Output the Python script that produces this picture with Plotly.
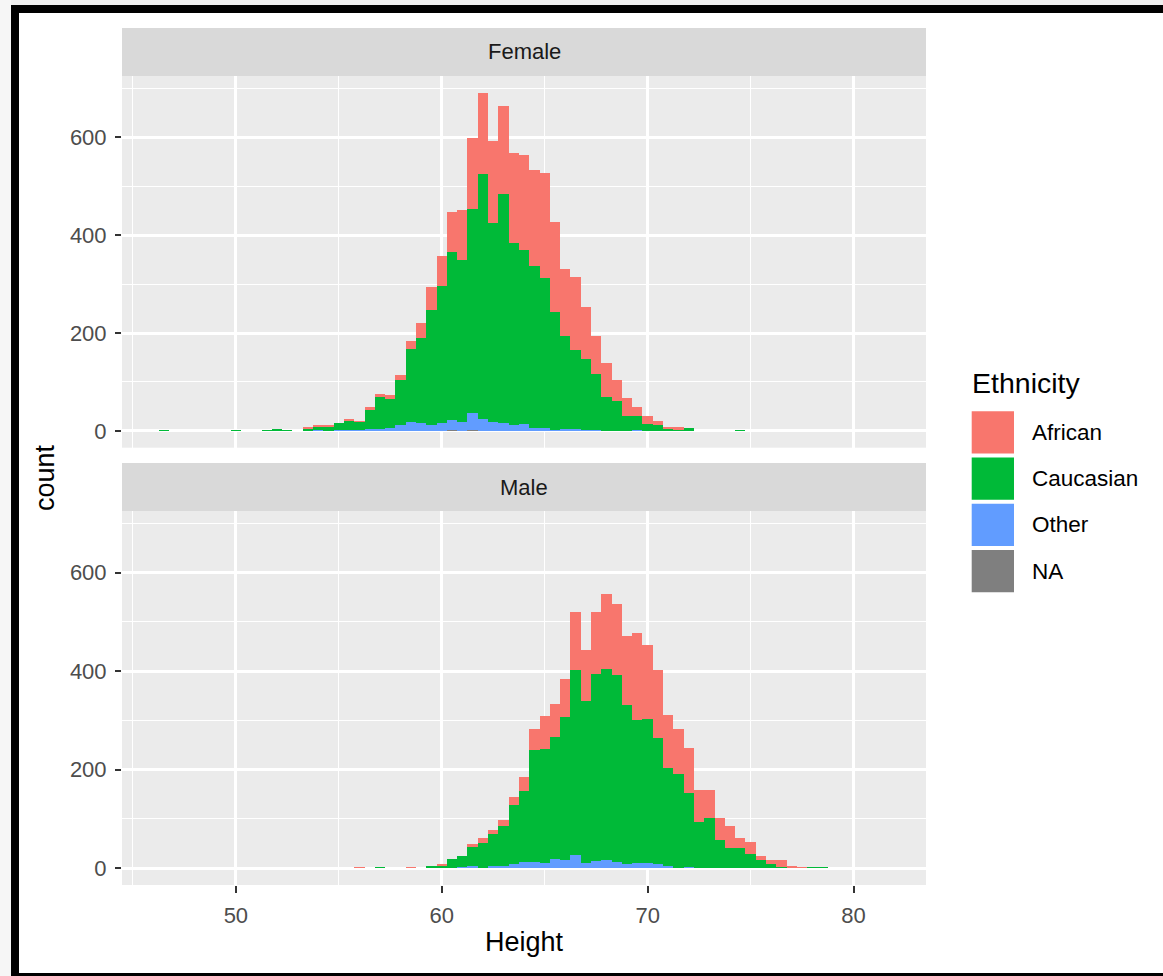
import plotly.graph_objects as go

# ---------------- data ----------------
height_bins = [46.5, 47.0, 47.5, 48.0, 48.5, 49.0, 49.5, 50.0, 50.5, 51.0,
               51.5, 52.0, 52.5, 53.0, 53.5, 54.0, 54.5, 55.0, 55.5, 56.0,
               56.5, 57.0, 57.5, 58.0, 58.5, 59.0, 59.5, 60.0, 60.5, 61.0,
               61.5, 62.0, 62.5, 63.0, 63.5, 64.0, 64.5, 65.0, 65.5, 66.0,
               66.5, 67.0, 67.5, 68.0, 68.5, 69.0, 69.5, 70.0, 70.5, 71.0,
               71.5, 72.0, 72.5, 73.0, 73.5, 74.0, 74.5, 75.0, 75.5, 76.0,
               76.5, 77.0, 77.5, 78.0, 78.5]

female_african = [0, 0, 0, 0, 0, 0, 0, 0, 0, 0,
                  0, 0, 0, 0, 3, 1, 3, 0, 3, 2,
                  4, 5, 7, 11, 17, 30, 47, 62, 82, 102,
                  145, 165, 168, 180, 184, 196, 196, 216, 184, 137,
                  149, 108, 77, 69, 42, 37, 18, 16, 8, 2,
                  4, 0, 0, 0, 0, 0, 0, 0, 0, 0,
                  0, 0, 0, 0, 0]
female_caucasian = [1, 0, 0, 0, 0, 0, 0, 1, 0, 0,
                    1, 3, 1, 0, 5, 8, 9, 15, 20, 17,
                    41, 66, 60, 91, 149, 174, 236, 280, 344, 332,
                    417, 501, 406, 469, 373, 356, 333, 307, 240, 190,
                    162, 144, 115, 69, 61, 30, 28, 14, 12, 5,
                    3, 5, 0, 0, 0, 0, 1, 0, 0, 0,
                    0, 0, 0, 0, 0]
female_other = [0, 0, 0, 0, 0, 0, 0, 0, 0, 0,
                0, 0, 0, 0, 0, 1, 0, 1, 1, 1,
                3, 4, 6, 12, 18, 16, 12, 16, 21, 18,
                36, 25, 18, 16, 12, 13, 5, 5, 2, 3,
                3, 2, 1, 0, 0, 0, 2, 0, 0, 0,
                0, 0, 0, 0, 0, 0, 0, 0, 0, 0,
                0, 0, 0, 0, 0]
female_na = [0, 0, 0, 0, 0, 0, 0, 0, 0, 0,
             0, 0, 0, 0, 0, 0, 0, 0, 0, 0,
             0, 0, 0, 0, 0, 0, 0, 0, 1, 0,
             1, 0, 0, 0, 0, 0, 0, 0, 0, 0,
             0, 0, 0, 0, 0, 0, 0, 0, 0, 0,
             0, 0, 0, 0, 0, 0, 0, 0, 0, 0,
             0, 0, 0, 0, 0]

male_african = [0, 0, 0, 0, 0, 0, 0, 0, 0, 0,
                0, 0, 0, 0, 0, 0, 0, 0, 0, 1,
                0, 0, 0, 0, 1, 0, 0, 2, 0, 0,
                4, 11, 7, 11, 15, 29, 43, 67, 66, 79,
                119, 104, 126, 152, 144, 139, 176, 151, 138, 107,
                92, 92, 66, 58, 45, 45, 21, 24, 8, 7,
                14, 2, 1, 0, 0]
male_caucasian = [0, 0, 0, 0, 0, 0, 0, 0, 0, 0,
                  0, 0, 0, 0, 0, 0, 0, 0, 0, 0,
                  0, 1, 0, 0, 0, 0, 5, 5, 17, 22,
                  39, 49, 65, 81, 120, 143, 227, 230, 248, 289,
                  375, 329, 380, 388, 380, 323, 290, 292, 256, 198,
                  190, 149, 92, 100, 56, 41, 40, 28, 17, 9,
                  3, 1, 0, 1, 1]
male_other = [0, 0, 0, 0, 0, 0, 0, 0, 0, 0,
              0, 0, 0, 0, 0, 0, 0, 0, 0, 0,
              0, 0, 0, 0, 0, 0, 0, 0, 1, 3,
              5, 1, 5, 5, 9, 13, 13, 11, 19, 17,
              27, 11, 15, 17, 13, 9, 11, 11, 9, 5,
              1, 3, 1, 1, 0, 0, 0, 0, 0, 0,
              0, 0, 0, 0, 0]
male_na = [0] * 65

ethnicities = ["African", "Caucasian", "Other", "NA"]
colors = {"African": "#F8766D", "Caucasian": "#00BA38", "Other": "#619CFF", "NA": "#7F7F7F"}
facets = ["Female", "Male"]
x_ticks = [50, 60, 70, 80]
y_ticks = [0, 200, 400, 600]
bin_width = 0.5

series = {
    "Female": {"African": female_african, "Caucasian": female_caucasian,
               "Other": female_other, "NA": female_na},
    "Male": {"African": male_african, "Caucasian": male_caucasian,
             "Other": male_other, "NA": male_na},
}
for f in facets:
    for e in ethnicities:
        assert len(series[f][e]) == len(height_bins)

# ---------------- geometry ----------------
W, H = 1163, 976
ML, MR, MT, MB = 122, 237, 28, 91
PW, PH = W - ML - MR, H - MT - MB


def px_x(px):
    return (px - ML) / PW


def px_y(py):
    return (H - MB - py) / PH


FONT = "Liberation Sans, Arial, Helvetica, sans-serif"

# y range (ggplot style 5% expansion)
ymax = max(sum(series[f][e][i] for e in ethnicities) for f in facets for i in range(len(height_bins)))
y_range = [-0.05 * ymax, 1.05 * ymax]
x_range = [44.47, 83.52]

fig = go.Figure()
axis_ids = {"Female": ("x", "y"), "Male": ("x2", "y2")}
for f in facets:
    xa, ya = axis_ids[f]
    for e in reversed(ethnicities):  # bottom of stack first
        fig.add_trace(go.Bar(
            x=height_bins, y=series[f][e], width=bin_width, name=e,
            marker=dict(color=colors[e], line=dict(width=0)),
            xaxis=xa, yaxis=ya, showlegend=False,
        ))

grid_common = dict(showgrid=True, gridcolor="white", gridwidth=2.6, zeroline=False,
                   showline=False,
                   minor=dict(showgrid=True, gridcolor="white", gridwidth=1.3))
xgrid = dict(grid_common, range=x_range, tickvals=x_ticks,
             minor=dict(grid_common["minor"], dtick=5, tick0=0))
ygrid = dict(grid_common, range=y_range, tickvals=y_ticks,
             minor=dict(grid_common["minor"], dtick=100, tick0=0),
             ticks="outside", ticklen=6, tickwidth=2.4, tickcolor="#333333",
             tickfont=dict(family=FONT, size=22, color="#4D4D4D"), ticklabelstandoff=4)

fig.update_layout(
    width=W, height=H,
    margin=dict(l=ML, r=MR, t=MT, b=MB, pad=0),
    paper_bgcolor="white", plot_bgcolor="#EBEBEB",
    barmode="stack", bargap=0,
    font=dict(family=FONT, color="black"),
    xaxis=dict(xgrid, domain=[0, 1], anchor="y", showticklabels=False, ticks=""),
    xaxis2=dict(xgrid, domain=[0, 1], anchor="y2", matches="x",
                ticks="outside", ticklen=7, tickwidth=2.4, tickcolor="#333333",
                tickfont=dict(family=FONT, size=22, color="#4D4D4D"), ticklabelstandoff=4),
    yaxis=dict(ygrid, domain=[px_y(447.7), px_y(76)], anchor="x"),
    yaxis2=dict(ygrid, domain=[px_y(885), px_y(511)], anchor="x2", matches="y"),
)

shapes = []
annotations = []

# facet strips
strips = {"Female": (28, 76), "Male": (463, 511)}
for f in facets:
    top, bot = strips[f]
    shapes.append(dict(type="rect", xref="paper", yref="paper", x0=0, x1=1,
                       y0=px_y(bot), y1=px_y(top), fillcolor="#D9D9D9", line=dict(width=0),
                       layer="above"))
    annotations.append(dict(text=f, xref="paper", yref="paper", x=0.5, y=px_y((top + bot) / 2),
                            showarrow=False, xanchor="center", yanchor="middle",
                            font=dict(family=FONT, size=22, color="#1A1A1A")))

# axis titles
annotations.append(dict(text="count", xref="paper", yref="paper", x=px_x(45), y=px_y(478),
                        textangle=-90, showarrow=False, xanchor="center", yanchor="middle",
                        font=dict(family=FONT, size=27, color="black")))
annotations.append(dict(text="Height", xref="paper", yref="paper", x=px_x(524), y=px_y(942),
                        showarrow=False, xanchor="center", yanchor="middle",
                        font=dict(family=FONT, size=27, color="black")))

# legend (ggplot-style keys)
annotations.append(dict(text="Ethnicity", xref="paper", yref="paper", x=px_x(970), y=px_y(383),
                        showarrow=False, xanchor="left", yanchor="middle",
                        font=dict(family=FONT, size=28.5, color="black")))
key_top, key_size, key_step = 411.3, 42.3, 46.2
for i, e in enumerate(ethnicities):
    t = key_top + i * key_step
    shapes.append(dict(type="rect", xref="paper", yref="paper",
                       x0=px_x(971.7), x1=px_x(1014), y0=px_y(t + key_size), y1=px_y(t),
                       fillcolor=colors[e], line=dict(width=0), layer="above"))
    annotations.append(dict(text=e, xref="paper", yref="paper", x=px_x(1030), y=px_y(t + key_size / 2),
                            showarrow=False, xanchor="left", yanchor="middle",
                            font=dict(family=FONT, size=22.5, color="black")))

# window frame
frame = [
    (0, 1163, 0, 5, "#EFEFEF"),
    (0, 11, 0, 976, "#F6F6F6"),
    (11, 1163, 5, 13, "black"),
    (11, 19, 5, 976, "black"),
    (11, 1163, 973, 976, "black"),
]
for x0, x1, y0, y1, c in frame:
    shapes.append(dict(type="rect", xref="paper", yref="paper",
                       x0=px_x(x0), x1=px_x(x1), y0=px_y(y1), y1=px_y(y0),
                       fillcolor=c, line=dict(width=0), layer="above"))

fig.update_layout(shapes=shapes, annotations=annotations)
fig.write_html(
    "out.html",
    config={"displayModeBar": False},
    post_script="document.body.style.margin='0';document.body.style.overflow='hidden';",
)
